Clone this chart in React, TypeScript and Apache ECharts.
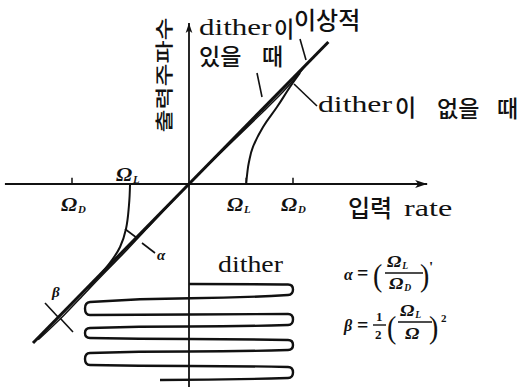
import React, { useEffect, useRef } from "react";
import * as echarts from "echarts";

// Input axis unit: 1 = Ω_D (dither amplitude)
const omegaD = 1.0;
const omegaL = 0.55;
const omegaDLeft = -1.125;
const omegaLLeft = -0.567;
const tickX = [omegaDLeft, omegaL, omegaD];
const tickLen = 0.06;

// Axis extents (input rate / output frequency)
const xAxisSpan = [-1.77, 2.29];
const yAxisSpan = [-1.95, 1.52];

// Ideal transfer line (output = input)
const idealLine = [
  [-1.5, -1.5],
  [1.34, 1.34],
];

// Response without dither: dead zone up to Ω_L, then rejoins the ideal line
const noDitherRight = [
  [0.55, 0],
  [0.56, 0.1],
  [0.575, 0.2],
  [0.615, 0.35],
  [0.712, 0.538],
  [0.846, 0.726],
  [0.971, 0.915],
  [1.067, 1.047],
];
const noDitherLeft = [
  [omegaLLeft, 0],
  [-0.577, -0.198],
  [-0.606, -0.425],
  [-0.663, -0.594],
  [-0.75, -0.73],
  [-0.856, -0.86],
  [-0.971, -0.981],
];

// Response with dither: hugs the ideal line
const ditherCurve = [
  [-1.45, -1.47],
  [-1.2, -1.235],
  [-1.0, -1.03],
  [-0.8, -0.825],
  [-0.6, -0.625],
  [-0.4, -0.415],
  [0, 0],
  [0.4, 0.385],
  [0.7, 0.67],
  [0.9, 0.865],
  [1.05, 1.03],
  [1.12, 1.12],
];

// Dither waveform (time runs downward), swings between -Ω_D and +Ω_D
const ditherWave = [
  [0, -0.943],
  [0.952, -0.948], [1.0, -0.995], [0.952, -1.047],
  [-0.952, -1.113], [-1.0, -1.175], [-0.952, -1.236],
  [0.952, -1.226], [1.0, -1.278], [0.952, -1.33],
  [-0.952, -1.358], [-1.0, -1.406], [-0.952, -1.453],
  [0.952, -1.472], [1.0, -1.519], [0.952, -1.566],
  [-0.952, -1.594], [-1.0, -1.651], [-0.952, -1.708],
  [0.952, -1.726], [1.0, -1.778], [0.952, -1.83],
  [-0.279, -1.849],
];

const INK = "#111";
const SERIF = "'Liberation Serif', 'DejaVu Serif', serif";
const KR = "'Noto Sans CJK KR', sans-serif";
const KR_WEIGHT = "500";

type TxtOpt = {
  size?: number;
  family?: string;
  weight?: string;
  style?: string;
  sx?: number;
  sy?: number;
  rot?: number;
  align?: string;
};

function txt(text: string, x: number, y: number, o: TxtOpt = {}) {
  const size = o.size ?? 20;
  return {
    type: "text",
    x,
    y,
    scaleX: o.sx ?? 1,
    scaleY: o.sy ?? 1,
    rotation: o.rot ?? 0,
    silent: true,
    style: {
      text,
      fill: INK,
      fontSize: size,
      lineHeight: size,
      fontFamily: o.family ?? SERIF,
      fontWeight: o.weight ?? "normal",
      fontStyle: o.style ?? "normal",
      align: o.align ?? "left",
      verticalAlign: "middle",
    },
  };
}

function kr(text: string, x: number, y: number, size = 23) {
  return txt(text, x, y, { size, family: KR, weight: KR_WEIGHT });
}

function stroke(x1: number, y1: number, x2: number, y2: number, w = 1.6) {
  return {
    type: "line",
    silent: true,
    shape: { x1, y1, x2, y2 },
    style: { stroke: INK, lineWidth: w },
  };
}

// Ω with a subscript letter
function omega(x: number, y: number, sub: string, size = 18) {
  return [
    txt("Ω", x, y, { size, weight: "bold", style: "italic", sx: 1.2 }),
    txt(sub, x + size * 0.95, y + size * 0.2, {
      size: size * 0.6,
      weight: "bold",
      style: "italic",
    }),
  ];
}

export default function App() {
  const ref = useRef<HTMLDivElement>(null);

  useEffect(() => {
    if (!ref.current) return;
    const chart = echarts.init(ref.current, undefined, { renderer: "svg" });

    const lineBase = {
      type: "line",
      symbol: "none",
      silent: true,
      animation: false,
    };

    const graphics: any[] = [
      // vertical axis title
      txt("출력주파수", 163, 75, {
        size: 25,
        family: KR,
        weight: KR_WEIGHT,
        rot: Math.PI / 2,
        sy: 0.75,
        align: "center",
      }),
      // with dither / ideal labels
      txt("dither", 199, 27, { size: 23, sx: 1.35 }),
      kr("이", 274, 27, 22),
      kr("이상적", 294, 18, 24),
      kr("있을", 199, 55),
      kr("때", 262, 55),
      // without dither label
      txt("dither", 318, 104, { size: 23, sx: 1.38 }),
      kr("이", 395, 106),
      kr("없을", 437, 107),
      kr("때", 497, 107),
      // input axis title
      kr("입력", 348, 206, 24),
      txt("rate", 404, 208, { size: 23, sx: 1.4 }),
      // Ω tick labels
      ...omega(116, 175, "L"),
      ...omega(61, 205, "D"),
      ...omega(227, 205, "L"),
      ...omega(281, 205, "D"),
      // dither waveform label
      txt("dither", 218, 264, { size: 24, sx: 1.16 }),
      // α and β markers
      txt("α", 157, 255, { size: 15, weight: "bold", style: "italic" }),
      txt("β", 52, 292, { size: 15, weight: "bold", style: "italic" }),
      stroke(257, 73, 262, 97),
      stroke(300, 39, 306, 60),
      stroke(294, 84, 317, 106),
      stroke(125, 229, 137, 238),
      stroke(142, 243, 155, 253),
      stroke(45, 303, 58, 317),
      stroke(60, 318, 73, 332),
      // α = (Ω_L / Ω_D)'
      txt("α", 344, 274, { size: 16, weight: "bold", style: "italic" }),
      txt("=", 357, 273, { size: 20, weight: "bold" }),
      txt("(", 373, 275, { size: 28, sy: 1.15 }),
      ...omega(387, 262, "L", 16),
      stroke(385, 273, 423, 273, 1.5),
      ...omega(389, 284, "D", 16),
      txt(")", 420, 275, { size: 28, sy: 1.15 }),
      txt("'", 429, 267, { size: 15, weight: "bold" }),
      // β = 1/2 (Ω_L / Ω)²
      txt("β", 344, 325, { size: 16, weight: "bold", style: "italic" }),
      txt("=", 357, 325, { size: 20, weight: "bold" }),
      txt("1", 376, 316, { size: 13, weight: "bold" }),
      stroke(373, 325, 386, 325, 1.4),
      txt("2", 375, 334, { size: 13, weight: "bold" }),
      txt("(", 387, 327, { size: 28, sy: 1.15 }),
      ...omega(400, 311, "L", 16),
      stroke(398, 322, 432, 322, 1.5),
      txt("Ω", 405, 334, { size: 16, weight: "bold", style: "italic", sx: 1.2 }),
      txt(")", 429, 327, { size: 28, sy: 1.15 }),
      txt("2", 441, 318, { size: 11, weight: "bold" }),
    ];

    const tickSeries = tickX.map((t) => ({
      ...lineBase,
      name: "tick",
      data: [
        [t, 0],
        [t, tickLen],
      ],
      lineStyle: { color: INK, width: 1.5 },
    }));

    chart.setOption({
      animation: false,
      backgroundColor: "#fff",
      grid: { left: 0, top: 0, width: 521, height: 387, containLabel: false },
      xAxis: { type: "value", min: -1.8173, max: 3.1923, show: false },
      yAxis: { type: "value", min: -1.9151, max: 1.7358, show: false },
      series: [
        {
          ...lineBase,
          name: "input axis",
          data: [
            { value: [xAxisSpan[0], 0] },
            { value: [xAxisSpan[1], 0], symbol: "arrow", symbolSize: [6, 12], symbolRotate: -90 },
          ],
          showAllSymbol: true,
          itemStyle: { color: INK },
          lineStyle: { color: INK, width: 1.8 },
        },
        {
          ...lineBase,
          name: "output axis",
          data: [
            { value: [0, yAxisSpan[0]] },
            { value: [0, yAxisSpan[1]], symbol: "arrow", symbolSize: [5, 10] },
          ],
          showAllSymbol: true,
          itemStyle: { color: INK },
          lineStyle: { color: INK, width: 1.8 },
        },
        ...tickSeries,
        {
          ...lineBase,
          name: "ideal",
          data: idealLine,
          lineStyle: { color: INK, width: 3 },
        },
        {
          ...lineBase,
          name: "without dither (+)",
          data: noDitherRight,
          smooth: 0.4,
          lineStyle: { color: INK, width: 2 },
        },
        {
          ...lineBase,
          name: "without dither (-)",
          data: noDitherLeft,
          smooth: 0.4,
          lineStyle: { color: INK, width: 2 },
        },
        {
          ...lineBase,
          name: "with dither",
          data: ditherCurve,
          smooth: 0.3,
          lineStyle: { color: INK, width: 1.5 },
        },
        {
          ...lineBase,
          name: "dither",
          data: ditherWave,
          smooth: 0.5,
          lineStyle: { color: INK, width: 2.4 },
        },
      ],
      graphic: graphics,
    });

    return () => chart.dispose();
  }, []);

  return (
    <div
      ref={ref}
      style={{
        position: "fixed",
        left: 0,
        top: 0,
        width: 521,
        height: 387,
        background: "#fff",
      }}
    />
  );
}
